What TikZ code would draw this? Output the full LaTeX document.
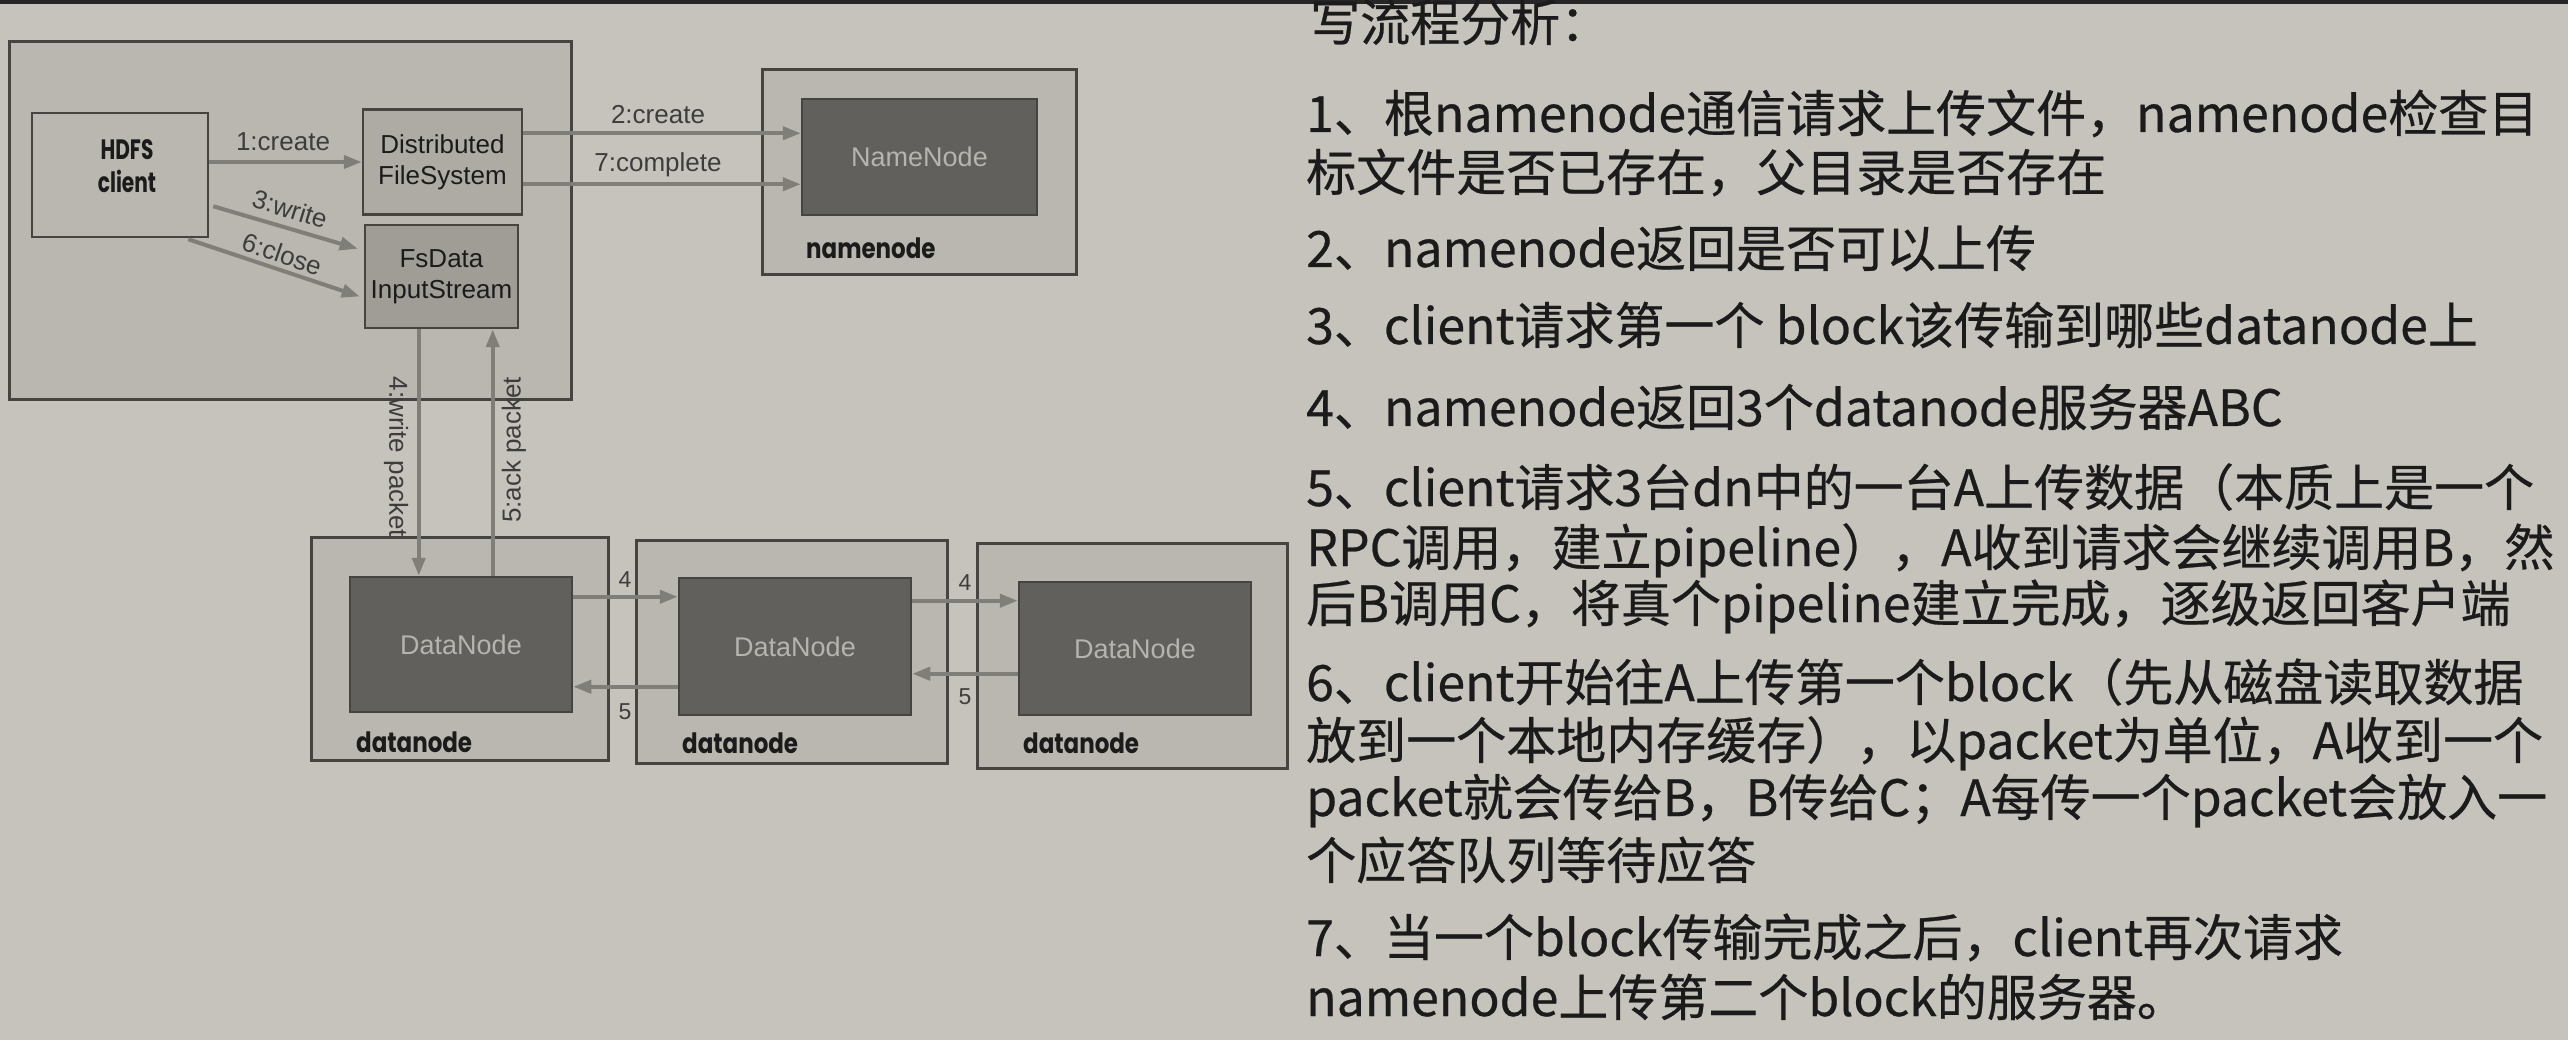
\documentclass[tikz,border=0pt]{standalone}
\usepackage{fontspec}
\setmainfont{Liberation Sans}
\newfontfamily\cjk[FakeBold=0.5]{Noto Sans CJK SC}
\newfontfamily\futura[FakeStretch=0.82]{Poppins}
\newfontfamily\futuracond[FakeStretch=0.72]{Poppins}
\usetikzlibrary{arrows.meta,calc}
\definecolor{paper}{RGB}{198,195,188}
\definecolor{boxfill}{RGB}{186,183,176}
\definecolor{dfsfill}{RGB}{174,171,164}
\definecolor{fsfill}{RGB}{160,157,151}
\definecolor{darkfill}{RGB}{98,96,92}
\definecolor{edgec}{RGB}{70,68,65}
\definecolor{arrowc}{RGB}{128,126,121}
\definecolor{lighttext}{RGB}{182,180,174}
\definecolor{ink}{RGB}{28,27,27}
\tikzset{
  outerbox/.style={draw=edgec,line width=3pt,fill=boxfill,inner sep=0pt},
  innerbox/.style={draw=edgec,line width=2.5pt,inner sep=0pt,align=center,text=ink,font=\fontsize{26}{31}\selectfont},
  darkbox/.style={draw=edgec,line width=2.5pt,fill=darkfill,inner sep=0pt,text=lighttext,font=\fontsize{27}{31}\selectfont},
  boldlbl/.style={anchor=west,inner sep=0pt,text=ink,font=\futura\bfseries\fontsize{28}{30}\selectfont},
  arr/.style={draw=arrowc,line width=4pt,-{Triangle[length=18pt,width=13pt]}},
  lbl/.style={inner sep=0pt,text=ink!85,font=\fontsize{26}{30}\selectfont},
  numlbl/.style={inner sep=0pt,text=ink!85,font=\fontsize{23}{26}\selectfont},
  txt/.style={anchor=base west,inner sep=0pt,text=ink,font=\cjk\fontsize{50}{50}\selectfont}
}
\begin{document}
\begin{tikzpicture}[x=1pt,y=-1pt]
\fill[paper] (0,0) rectangle (2568,1040);
\fill[black!85] (0,0) rectangle (2568,4);
\useasboundingbox (0,0) rectangle (2568,1040);

% client side
\node[outerbox,minimum width=562pt,minimum height=358pt] (client) at (290,221) {};
\node[innerbox,fill=boxfill,minimum width=176pt,minimum height=124pt] (hdfs) at (120,175) {};
\node[inner sep=0pt,align=center,text=ink,font=\futuracond\bfseries\fontsize{28}{33}\selectfont] (hdfstxt) at (127,166) {HDFS\\client};
\node[innerbox,fill=dfsfill,minimum width=159pt,minimum height=105pt] (dfs) at (442.5,162) {Distributed\\FileSystem};
\node[innerbox,fill=fsfill,minimum width=153pt,minimum height=103pt] (fs) at (441.5,276.5) {FsData\\InputStream};

% namenode
\node[outerbox,minimum width=314pt,minimum height=205pt] (nnbox) at (919,172.5) {};
\node[darkbox,minimum width=235pt,minimum height=116pt] (nn) at (919.5,157) {NameNode};
\node[boldlbl] (nnlbl) at (806,248) {namenode};

% datanodes
\node[outerbox,minimum width=297pt,minimum height=223pt] (dnbox1) at (459.5,648.5) {};
\node[darkbox,minimum width=222pt,minimum height=135pt] (dn1) at (461,644.5) {DataNode};
\node[boldlbl] (dnlbl1) at (356,742) {datanode};
\node[outerbox,minimum width=311pt,minimum height=223pt] (dnbox2) at (791.5,651.5) {};
\node[darkbox,minimum width=232pt,minimum height=137pt] (dn2) at (795,646.5) {DataNode};
\node[boldlbl] (dnlbl2) at (682,743) {datanode};
\node[outerbox,minimum width=310pt,minimum height=225pt] (dnbox3) at (1132,655.5) {};
\node[darkbox,minimum width=232pt,minimum height=133pt] (dn3) at (1135,648.5) {DataNode};
\node[boldlbl] (dnlbl3) at (1023,743) {datanode};

% client internal arrows
\draw[arr] (hdfs.east |- dfs.west) -- (dfs.west);
\draw[arr] ($(hdfs.south east)+(4,-32)$) coordinate (w3s) -- ($(fs.north west)+(-6,25)$);
\draw[arr] ($(hdfs.south east)+(-21,1)$) coordinate (c6s) -- ($(fs.west)+(-4,20)$);
\node[lbl] (l1) at (283,142) {1:create};
\node[lbl,rotate=-17] (l3) at (290,209) {3:write};
\node[lbl,rotate=-19] (l6) at (282,254) {6:close};

% to namenode
\draw[arr] ($(dfs.north east)+(0,25)$) coordinate (a2) -- (a2 -| nn.west);
\draw[arr] ($(dfs.north east)+(0,76)$) coordinate (a7) -- (a7 -| nn.west);
\node[lbl] (l2) at (658,115) {2:create};
\node[lbl] (l7) at (658,165) {7:complete};

% packets
\draw[arr] ($(fs.south west)+(55,0)$) coordinate (w4) -- (w4 |- dn1.north);
\draw[arr] ($(dn1.north west)+(144,0)$) coordinate (a5) -- (a5 |- fs.south);
\node[lbl,rotate=-90] (l4p) at (396,457) {4:write packet};
\node[lbl,rotate=90] (l5p) at (514,450) {5:ack packet};

% pipeline
\draw[arr] ($(dn1.north east)+(0,21)$) coordinate (p41) -- (p41 -| dn2.west);
\draw[arr] ($(dn2.north west)+(0,110)$) coordinate (p51) -- (p51 -| dn1.east);
\draw[arr] ($(dn2.north east)+(0,24)$) coordinate (p42) -- (p42 -| dn3.west);
\draw[arr] ($(dn3.north west)+(0,93)$) coordinate (p52) -- (p52 -| dn2.east);
\node[numlbl] (n41) at (625,580) {4};
\node[numlbl] (n51) at (625,712) {5};
\node[numlbl] (n42) at (965,583) {4};
\node[numlbl] (n52) at (965,697) {5};

% text
\node[txt] (t0) at (1310,41) {写流程分析：};
\node[txt] (t1) at (1306,132) {1、根namenode通信请求上传文件，namenode检查目};
\node[txt] (t2) at (1306,191) {标文件是否已存在，父目录是否存在};
\node[txt] (t3) at (1306,267) {2、namenode返回是否可以上传};
\node[txt] (t4) at (1306,344) {3、client请求第一个 block该传输到哪些datanode上};
\node[txt] (t5) at (1306,426) {4、namenode返回3个datanode服务器ABC};
\node[txt] (t6) at (1306,506) {5、client请求3台dn中的一台A上传数据（本质上是一个};
\node[txt] (t7) at (1306,566) {RPC调用，建立pipeline），A收到请求会继续调用B，然};
\node[txt] (t8) at (1306,622) {后B调用C，将真个pipeline建立完成，逐级返回客户端};
\node[txt] (t9) at (1306,701) {6、client开始往A上传第一个block（先从磁盘读取数据};
\node[txt] (t10) at (1306,759) {放到一个本地内存缓存），以packet为单位，A收到一个};
\node[txt] (t11) at (1306,816) {packet就会传给B，B传给C；A每传一个packet会放入一};
\node[txt] (t12) at (1306,879) {个应答队列等待应答};
\node[txt] (t13) at (1306,956) {7、当一个block传输完成之后，client再次请求};
\node[txt] (t14) at (1306,1016) {namenode上传第二个block的服务器。};
\end{tikzpicture}
\end{document}
